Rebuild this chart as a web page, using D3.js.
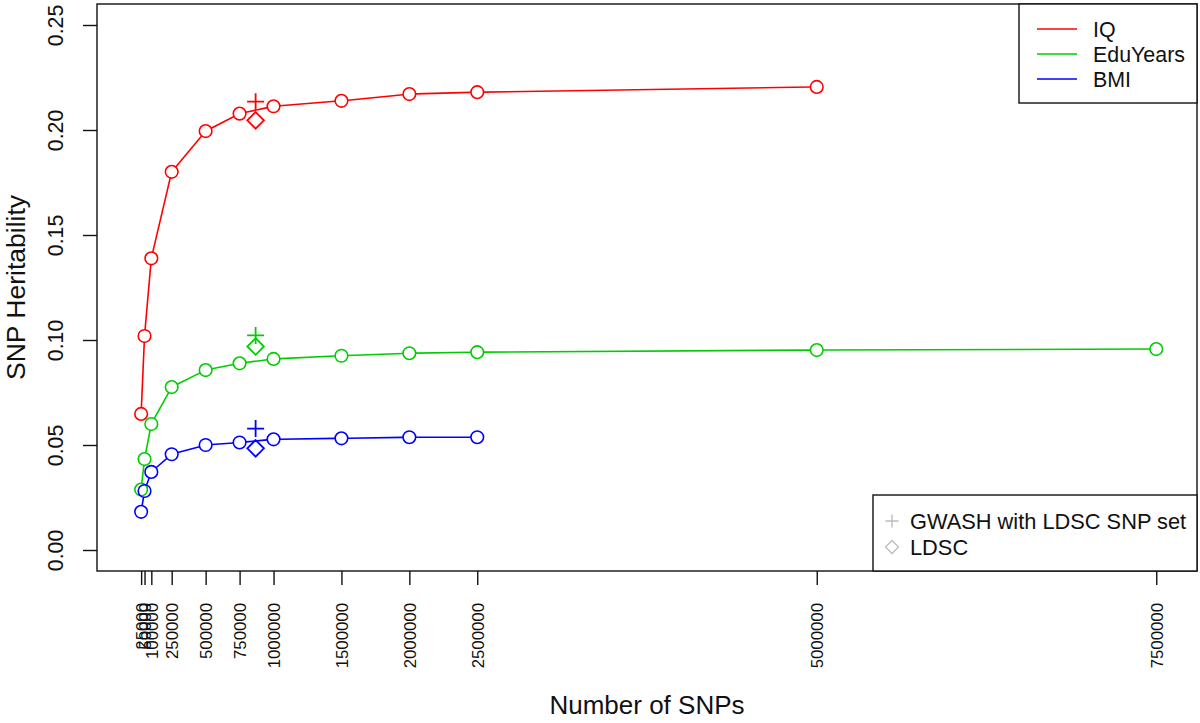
<!DOCTYPE html>
<html><head><meta charset="utf-8">
<script src="https://cdn.jsdelivr.net/npm/d3@7"></script>
<style>body{margin:0;background:#fff} svg{display:block} text{font-family:"Liberation Sans",Arial,sans-serif;fill:#111}</style>
</head><body><svg id="c" width="1200" height="723"></svg>
<script>
// ---- data ----
const snpCounts = [25000,50000,100000,250000,500000,750000,1000000,1500000,2000000,2500000,5000000,7500000];
const iqValues  = [0.0648,0.1019,0.1389,0.1801,0.1995,0.2078,0.2113,0.2139,0.2171,0.2180,0.2205];
const eduValues = [0.0288,0.0433,0.0600,0.0776,0.0857,0.0889,0.0910,0.0925,0.0937,0.0942,0.0952,0.0957];
const bmiValues = [0.0182,0.0281,0.0372,0.0456,0.0500,0.0512,0.0527,0.0532,0.0537,0.0537];
const ldscSnpCount = 868000;
const gwashLdscValues = [0.2135,0.1022,0.0578];
const ldscValues = [0.2046,0.0969,0.0484];
const seriesNames = ["IQ","EduYears","BMI"];
const seriesColors = ["#ff0000","#00cd00","#0000ff"];
const xTickValues = snpCounts;
const yTickValues = [0,0.05,0.10,0.15,0.20,0.25];
const markerLegend = ["GWASH with LDSC SNP set","LDSC"];

// ---- scales ----
const svg = d3.select("#c");
const L=97,R=1197,T=4,B=571;
const x = d3.scaleLinear().domain([-300000,7800000]).range([L,R]);
const y = d3.scaleLinear().domain([-0.01,0.26]).range([B,T]);
const seriesVals = [iqValues,eduValues,bmiValues];
const rad = 6.3;

// ---- series (type "b": lines with gaps at points) ----
seriesVals.forEach((vals,i)=>{
  const pts = vals.map((v,j)=>[x(snpCounts[j]),y(v)]);
  const g = svg.append("g");
  for(let j=0;j<pts.length-1;j++){
    const [x1,y1]=pts[j],[x2,y2]=pts[j+1];
    const dx=x2-x1,dy=y2-y1,len=Math.hypot(dx,dy);
    if(len<=2*rad) continue;
    const ux=dx/len,uy=dy/len;
    g.append("line").attr("x1",x1+ux*rad).attr("y1",y1+uy*rad)
      .attr("x2",x2-ux*rad).attr("y2",y2-uy*rad)
      .attr("stroke",seriesColors[i]).attr("stroke-width",1.6);
  }
  g.selectAll("circle").data(pts).join("circle")
    .attr("cx",d=>d[0]).attr("cy",d=>d[1]).attr("r",rad)
    .attr("fill","none").attr("stroke",seriesColors[i]).attr("stroke-width",1.6);
});

// plus and diamond markers
function plus(g,cx,cy,h,col,w){
  g.append("path").attr("d",`M${cx-h},${cy}H${cx+h}M${cx},${cy-h}V${cy+h}`)
   .attr("stroke",col).attr("stroke-width",w).attr("fill","none");
}
function diamond(g,cx,cy,h,col,w){
  g.append("path").attr("d",`M${cx},${cy-h}L${cx+h},${cy}L${cx},${cy+h}L${cx-h},${cy}Z`)
   .attr("stroke",col).attr("stroke-width",w).attr("fill","none");
}
const mk = svg.append("g");
gwashLdscValues.forEach((v,i)=>plus(mk,x(ldscSnpCount),y(v),8.5,seriesColors[i],1.8));
ldscValues.forEach((v,i)=>diamond(mk,x(ldscSnpCount),y(v),8.3,seriesColors[i],1.8));

// ---- box ----
svg.append("rect").attr("x",L).attr("y",T).attr("width",R-L).attr("height",B-T)
  .attr("fill","none").attr("stroke","#111").attr("stroke-width",1.4);

// ---- axes ----
const xa = svg.append("g").attr("transform",`translate(0,${B})`)
  .call(d3.axisBottom(x).tickValues(xTickValues).tickSize(14).tickFormat(d3.format("d")));
xa.select(".domain").remove();
xa.selectAll(".tick line").attr("stroke","#111").attr("stroke-width",1.4);
xa.selectAll(".tick text").attr("transform","rotate(-90)").attr("x",-32).attr("y",0)
  .attr("dy","0.36em").attr("text-anchor","end").style("font-size","16.8px").attr("fill","#111");

const ya = svg.append("g").attr("transform",`translate(${L},0)`)
  .call(d3.axisLeft(y).tickValues(yTickValues).tickSize(14).tickFormat(d3.format(".2f")));
ya.select(".domain").remove();
ya.selectAll(".tick line").attr("stroke","#111").attr("stroke-width",1.4);
ya.selectAll(".tick text").attr("transform","rotate(-90)").attr("x",0).attr("y",-42)
  .attr("dy","0.36em").attr("text-anchor","middle").style("font-size","21.3px").attr("fill","#111");

// titles
svg.append("text").attr("x",(L+R)/2).attr("y",705).attr("dy","0.36em").attr("text-anchor","middle")
  .style("font-size","26px").text("Number of SNPs");
svg.append("text").attr("transform",`translate(15,${(T+B)/2}) rotate(-90)`).attr("dy","0.36em")
  .attr("text-anchor","middle").style("font-size","26.5px").text("SNP Heritability");

// ---- legend 1 ----
const lg1 = svg.append("g");
lg1.append("rect").attr("x",1019).attr("y",T).attr("width",R-1019).attr("height",99)
  .attr("fill","#fff").attr("stroke","#111").attr("stroke-width",1.4);
seriesNames.forEach((n,i)=>{
  const yy = 29 + i*25;
  lg1.append("line").attr("x1",1037).attr("x2",1077).attr("y1",yy).attr("y2",yy)
    .attr("stroke",seriesColors[i]).attr("stroke-width",1.7);
  lg1.append("text").attr("x",1093).attr("y",yy).attr("dy","0.36em")
    .style("font-size","21.4px").text(n);
});

// ---- legend 2 ----
const lg2 = svg.append("g");
lg2.append("rect").attr("x",873).attr("y",495).attr("width",R-873).attr("height",B-495)
  .attr("fill","#fff").attr("stroke","#111").attr("stroke-width",1.4);
markerLegend.forEach((n,i)=>{
  const yy = 521 + i*26;
  if(i===0) plus(lg2,892,yy,6.5,"#bebebe",1.4); else diamond(lg2,892,yy,6.5,"#bebebe",1.4);
  lg2.append("text").attr("x",910).attr("y",yy).attr("dy","0.36em")
    .style("font-size","21.8px").text(n);
});
</script></body></html>
